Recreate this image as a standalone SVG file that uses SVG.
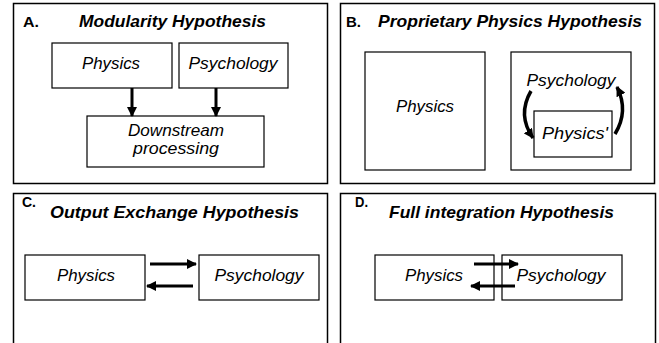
<svg xmlns="http://www.w3.org/2000/svg" width="659" height="343" viewBox="0 0 659 343">
<defs>
<style>
.panel{fill:#fff;stroke:#000;stroke-width:1.5}
.box{fill:#fff;stroke:#000;stroke-width:1.2}
.lbl{font-family:"Liberation Sans",Arial,sans-serif;font-style:italic;font-size:16.5px;fill:#000}
.ttl{font-family:"Liberation Sans",Arial,sans-serif;font-style:italic;font-weight:bold;font-size:17px;fill:#000}
.let{font-family:"Liberation Sans",Arial,sans-serif;font-weight:bold;font-size:15px;fill:#000}
.arr{fill:none;stroke:#000;stroke-width:3}
.carr{fill:none;stroke:#000;stroke-width:3.5}
</style>
<marker id="ah" viewBox="0 0 10 10" refX="9" refY="5" markerWidth="10" markerHeight="10" markerUnits="userSpaceOnUse" orient="auto">
<path d="M0,0 L10,5 L0,10 Z" fill="#000"/>
</marker>
</defs>
<rect width="659" height="343" fill="#fff"/>
<g id="panelA">
<rect class="panel" x="13.5" y="3.5" width="314" height="180"/>
<text class="let" x="23" y="27" textLength="16" lengthAdjust="spacingAndGlyphs">A.</text>
<text class="ttl" x="79" y="27" textLength="187" lengthAdjust="spacingAndGlyphs">Modularity Hypothesis</text>
</g>
<g id="panelB">
<rect class="panel" x="340.5" y="3.5" width="314" height="180"/>
<text class="let" x="346" y="27" textLength="15" lengthAdjust="spacingAndGlyphs">B.</text>
<text class="ttl" x="378" y="27" textLength="264" lengthAdjust="spacingAndGlyphs">Proprietary Physics Hypothesis</text>
</g>
<g id="panelC">
<rect class="panel" x="13.5" y="193.5" width="314" height="152"/>
<text class="let" x="22" y="207" textLength="14" lengthAdjust="spacingAndGlyphs">C.</text>
<text class="ttl" x="50" y="218" textLength="249" lengthAdjust="spacingAndGlyphs">Output Exchange Hypothesis</text>
</g>
<g id="panelD">
<rect class="panel" x="340.5" y="193.5" width="315" height="152"/>
<text class="let" x="355" y="207" textLength="13" lengthAdjust="spacingAndGlyphs">D.</text>
<text class="ttl" x="389" y="218" textLength="225" lengthAdjust="spacingAndGlyphs">Full integration Hypothesis</text>
</g>
<g id="A-physics">
<rect class="box" x="52" y="43" width="120" height="45"/>
<text class="lbl" x="111" y="69" text-anchor="middle" textLength="58" lengthAdjust="spacingAndGlyphs">Physics</text>
</g>
<g id="A-psychology">
<rect class="box" x="179" y="43" width="109" height="45"/>
<text class="lbl" x="233" y="69" text-anchor="middle" textLength="89" lengthAdjust="spacingAndGlyphs">Psychology</text>
</g>
<g id="A-downstream">
<rect class="box" x="87" y="116" width="177" height="51"/>
<text class="lbl" x="176" y="136" text-anchor="middle" textLength="96" lengthAdjust="spacingAndGlyphs">Downstream</text>
<text class="lbl" x="176" y="154" text-anchor="middle" textLength="86" lengthAdjust="spacingAndGlyphs">processing</text>
</g>
<g id="B-physics">
<rect class="box" x="365" y="52" width="120" height="118"/>
<text class="lbl" x="425" y="112" text-anchor="middle" textLength="58" lengthAdjust="spacingAndGlyphs">Physics</text>
</g>
<g id="B-psychology">
<rect class="box" x="511" y="52" width="120" height="118"/>
<text class="lbl" x="571" y="86" text-anchor="middle" textLength="89" lengthAdjust="spacingAndGlyphs">Psychology</text>
</g>
<g id="B-physics-prime">
<rect class="box" x="534" y="111" width="78" height="46"/>
<text class="lbl" x="575" y="139" text-anchor="middle" textLength="66" lengthAdjust="spacingAndGlyphs">Physics'</text>
</g>
<g id="C-physics">
<rect class="box" x="25" y="255" width="120" height="45"/>
<text class="lbl" x="86" y="281" text-anchor="middle" textLength="58" lengthAdjust="spacingAndGlyphs">Physics</text>
</g>
<g id="C-psychology">
<rect class="box" x="199" y="255" width="120" height="45"/>
<text class="lbl" x="259" y="281" text-anchor="middle" textLength="89" lengthAdjust="spacingAndGlyphs">Psychology</text>
</g>
<g id="D-physics">
<rect class="box" x="375" y="255" width="119" height="45"/>
<text class="lbl" x="434" y="281" text-anchor="middle" textLength="58" lengthAdjust="spacingAndGlyphs">Physics</text>
</g>
<g id="D-psychology">
<rect class="box" x="502" y="255" width="120" height="45"/>
<text class="lbl" x="561" y="281" text-anchor="middle" textLength="89" lengthAdjust="spacingAndGlyphs">Psychology</text>
</g>
<g id="connectors">
<line class="arr" x1="132" y1="88" x2="132" y2="116" marker-end="url(#ah)"/>
<line class="arr" x1="216" y1="88" x2="216" y2="116" marker-end="url(#ah)"/>
<path class="carr" d="M531,91 Q517,115 533,138" marker-end="url(#ah)"/>
<path class="carr" d="M615,134 Q629,111 617,87" marker-end="url(#ah)"/>
<line class="arr" x1="150" y1="264" x2="196" y2="264" marker-end="url(#ah)"/>
<line class="arr" x1="193" y1="286" x2="147" y2="286" marker-end="url(#ah)"/>
<line class="arr" x1="474" y1="264" x2="518" y2="264" marker-end="url(#ah)"/>
<line class="arr" x1="515" y1="286" x2="471" y2="286" marker-end="url(#ah)"/>
</g>
</svg>
